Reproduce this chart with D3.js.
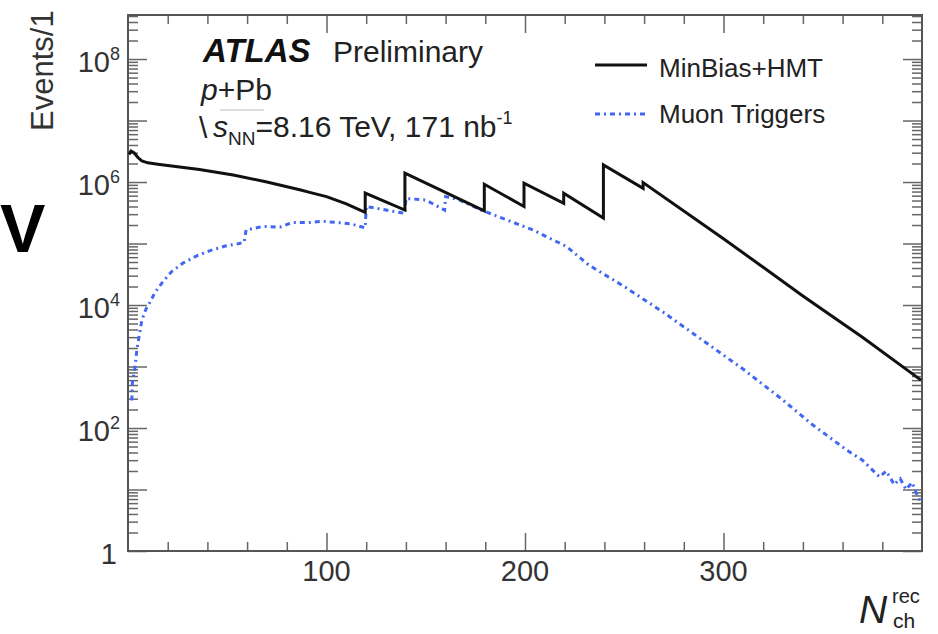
<!DOCTYPE html>
<html>
<head>
<meta charset="utf-8">
<script src="https://cdn.jsdelivr.net/npm/d3@7"></script>
<style>
  body { margin: 0; background: #fff; }
  svg text { font-family: "Liberation Sans", Arial, Helvetica, sans-serif; fill: #222; }
</style>
</head>
<body>
<svg id="chart" width="938" height="634"></svg>
<script>
// values (N_ch^rec, events)
const minbiasX = [0.5, 1.5, 3, 5, 7, 10, 15, 20, 36, 53, 70, 87, 93, 100, 110, 119.5,
                  119.5, 139.5, 139.5, 179.5, 179.5, 199.5, 199.5, 219.5, 219.5, 239.5,
                  239.5, 259.5, 259.5, 300, 340, 370, 399.5];
const minbiasY = [2.8e6, 3.2e6, 3.0e6, 2.5e6, 2.2e6, 2.05e6, 1.95e6, 1.85e6, 1.6e6, 1.3e6, 1.0e6, 7.4e5, 6.6e5, 5.8e5, 4.4e5, 3.2e5,
                  6.6e5, 3.5e5, 1.4e6, 3.4e5, 9.2e5, 4.0e5, 9.6e5, 4.5e5, 6.6e5, 2.6e5,
                  1.9e6, 7.9e5, 9.8e5, 1.2e5, 1.4e4, 3.0e3, 600];

const muonX = [1.9, 2.2, 3.5, 4.3, 5, 7, 9, 11, 13.6, 17.6, 22, 27.7, 34.6, 41, 49, 56, 58.5,
               59.5, 68, 76.5, 83, 91.6, 98, 105, 112, 119.5,
               120, 130, 139.5, 140, 150, 159.5, 160, 167, 178, 187, 204, 221, 232,
               250, 270, 290, 310, 328, 345, 362, 370, 378.6, 382, 386, 389, 392, 395, 397, 399.5];
const muonY = [280, 540, 950, 1.66e3, 2.4e3, 5.7e3, 8.5e3, 1.1e4, 1.6e4, 2.4e4, 3.5e4, 4.8e4, 6.3e4, 7.6e4, 9.1e4, 1.0e5, 1.05e5,
               1.66e5, 1.9e5, 1.85e5, 2.2e5, 2.2e5, 2.3e5, 2.2e5, 2.1e5, 1.8e5,
               4.0e5, 3.5e5, 3.1e5, 5.4e5, 5.1e5, 3.5e5, 5.8e5, 5.1e5, 3.5e5, 2.7e5, 1.66e5, 8.9e4, 4.5e4,
               2.0e4, 7.5e3, 2.6e3, 900, 320, 112, 44, 30, 16, 20, 12, 15, 10, 13, 9, 6];

const seriesNames = ["MinBias+HMT", "Muon Triggers"];
const xMajorTicks = [100, 200, 300];
const xMinorTicks = [20, 40, 60, 80, 120, 140, 160, 180, 220, 240, 260, 280, 320, 340, 360, 380];
const yLabelExps = [0, 2, 4, 6, 8];

const svg = d3.select("#chart");
const pLeft = 128, pRight = 922, pTop = 15, pBottom = 551;

const x = d3.scaleLinear().domain([0, 400]).range([pLeft, pRight]);
const y = d3.scaleLog().domain([1, 5.2e8]).range([pBottom, pTop]);

// log ticks
let yMajor = [], yMinor = [];
for (let e = 0; e <= 8; e++) {
  yMajor.push(Math.pow(10, e));
  for (let m = 2; m <= 9; m++) {
    let v = m * Math.pow(10, e);
    if (v <= 5.2e8) yMinor.push(v);
  }
}

svg.append("defs").append("clipPath").attr("id", "plotclip")
  .append("rect").attr("x", pLeft).attr("y", pTop).attr("width", pRight - pLeft).attr("height", pBottom - pTop);

// ticks on all four sides, pointing inward
function drawAxis(axis, tx, ty) {
  let g = svg.append("g").attr("transform", `translate(${tx},${ty})`).call(axis);
  g.select(".domain").remove();
  g.selectAll("line").attr("stroke", "#666").attr("stroke-width", 1.5);
  g.selectAll("text").remove();
}
drawAxis(d3.axisBottom(x).tickValues(xMajorTicks).tickSize(-18), 0, pBottom);
drawAxis(d3.axisBottom(x).tickValues(xMinorTicks).tickSize(-9), 0, pBottom);
drawAxis(d3.axisTop(x).tickValues(xMajorTicks).tickSize(-18), 0, pTop);
drawAxis(d3.axisTop(x).tickValues(xMinorTicks).tickSize(-9), 0, pTop);
drawAxis(d3.axisLeft(y).tickValues(yMajor).tickSize(-19), pLeft, 0);
drawAxis(d3.axisLeft(y).tickValues(yMinor).tickSize(-10), pLeft, 0);
drawAxis(d3.axisRight(y).tickValues(yMajor).tickSize(-19), pRight, 0);
drawAxis(d3.axisRight(y).tickValues(yMinor).tickSize(-10), pRight, 0);

// frame
svg.append("rect").attr("x", pLeft).attr("y", pTop).attr("width", pRight - pLeft).attr("height", pBottom - pTop)
  .attr("fill", "none").attr("stroke", "#555").attr("stroke-width", 2);

// x tick labels
svg.selectAll(".xlab").data(xMajorTicks).enter().append("text")
  .attr("x", d => x(d)).attr("y", 581).attr("text-anchor", "middle")
  .attr("font-size", 29).style("fill", "#333").text(d => d);

// y tick labels
yLabelExps.forEach(e => {
  let t = svg.append("text").attr("x", e == 0 ? 117 : 120).attr("y", y(Math.pow(10, e)) + 13)
    .attr("text-anchor", "end").attr("font-size", 29).style("fill", "#333");
  if (e == 0) { t.text("1"); return; }
  t.append("tspan").text("10");
  t.append("tspan").attr("dy", -12).attr("font-size", 18).text(e);
});

// data lines
const line = d3.line().x(d => x(d[0])).y(d => y(d[1]));
const plot = svg.append("g").attr("clip-path", "url(#plotclip)");

plot.append("path").datum(muonX.map((v, i) => [v, muonY[i]]))
  .attr("d", line).attr("fill", "none")
  .attr("stroke", "#4268f2").attr("stroke-width", 3)
  .attr("stroke-dasharray", "5,4,2,4");

plot.append("path").datum(minbiasX.map((v, i) => [v, minbiasY[i]]))
  .attr("d", line).attr("fill", "none")
  .attr("stroke", "#111").attr("stroke-width", 3).attr("stroke-linejoin", "miter");

// legend
svg.append("line").attr("x1", 595).attr("x2", 647).attr("y1", 65).attr("y2", 65)
  .attr("stroke", "#111").attr("stroke-width", 3);
svg.append("line").attr("x1", 595).attr("x2", 647).attr("y1", 114).attr("y2", 114)
  .attr("stroke", "#4268f2").attr("stroke-width", 3).attr("stroke-dasharray", "5,4,2,4");
svg.append("text").attr("x", 659).attr("y", 77).attr("font-size", 26).text(seriesNames[0]);
svg.append("text").attr("x", 659).attr("y", 123).attr("font-size", 26).text(seriesNames[1]);

// ATLAS label
let atl = svg.append("text").attr("x", 203).attr("y", 62).attr("font-size", 30);
atl.append("tspan").attr("font-weight", "bold").attr("font-style", "italic").attr("font-size", 33)
  .style("fill", "#111").text("ATLAS");
atl.append("tspan").attr("x", 333).text("Preliminary");

let pp = svg.append("text").attr("x", 201).attr("y", 100).attr("font-size", 30);
pp.append("tspan").attr("font-style", "italic").text("p");
pp.append("tspan").text("+Pb");

svg.append("text").attr("x", 199).attr("y", 138).attr("font-size", 30).text("\\");
svg.append("line").attr("x1", 220).attr("x2", 264).attr("y1", 110).attr("y2", 110)
  .attr("stroke", "#bbb").attr("stroke-width", 1);
let en = svg.append("text").attr("x", 213).attr("y", 137).attr("font-size", 30);
en.append("tspan").attr("font-style", "italic").text("s");
en.append("tspan").attr("font-size", 19).attr("dy", 8).text("NN");
en.append("tspan").attr("dy", -8).text("=8.16 TeV, 171 nb");
en.append("tspan").attr("font-size", 18).attr("dy", -13).text("-1");

// axis titles
svg.append("text").attr("transform", "translate(53,131) rotate(-90)")
  .attr("font-size", 31).style("fill", "#333").text("Events/1");

svg.append("text").attr("x", 859).attr("y", 623).attr("font-size", 39)
  .attr("font-style", "italic").text("N");
svg.append("text").attr("x", 892).attr("y", 603).attr("font-size", 20).text("rec");
svg.append("text").attr("x", 893).attr("y", 628).attr("font-size", 21).text("ch");

// stray glyph at the left edge of the crop
svg.append("text").attr("x", 0).attr("y", 252).attr("font-size", 68)
  .attr("font-weight", "bold").style("fill", "#000").text("V");
</script>
</body>
</html>
